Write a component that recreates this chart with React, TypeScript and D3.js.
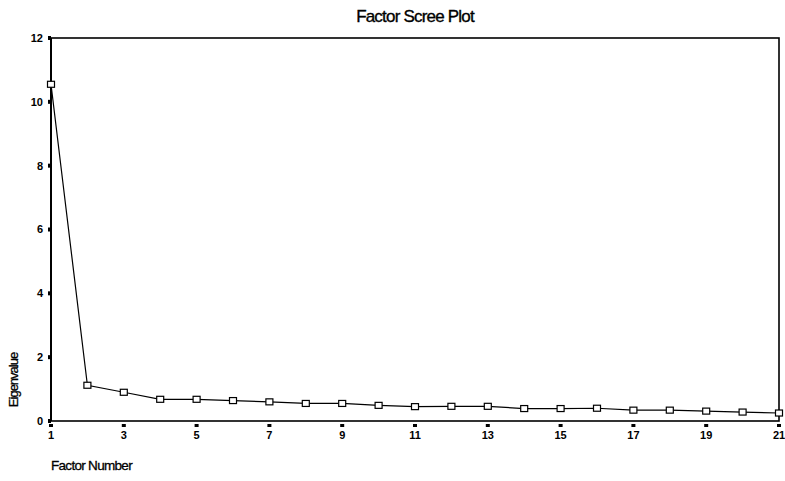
import * as d3 from 'd3';
import React from 'react';

// eigenvalue per factor
const factors = d3.range(1, 22);
const eigenvalues = [
  10.55, 1.12, 0.9, 0.68, 0.68, 0.64, 0.6, 0.55, 0.55, 0.49, 0.45,
  0.46, 0.46, 0.39, 0.39, 0.4, 0.34, 0.34, 0.31, 0.28, 0.25,
];
const xTickValues = [1, 3, 5, 7, 9, 11, 13, 15, 17, 19, 21];
const yTickValues = [0, 2, 4, 6, 8, 10, 12];

const width = 785;
const height = 481;
const margin = { top: 38, right: 4, bottom: 60, left: 51 };
const font = "'Liberation Sans Narrow', 'Liberation Sans', Arial, sans-serif";

const App: React.FC = () => {
  const innerWidth = width - margin.left - margin.right;
  const innerHeight = height - margin.top - margin.bottom;

  const x = d3.scaleLinear().domain([1, 21]).range([0, innerWidth - 2]);
  const y = d3.scaleLinear().domain([0, 12]).range([innerHeight, 0]);

  const points = factors.map((f, i) => ({ f, v: eigenvalues[i] }));
  const line = d3
    .line<{ f: number; v: number }>()
    .x((d) => x(d.f))
    .y((d) => y(d.v));

  return (
    <svg
      width={width}
      height={height}
      style={{ position: 'absolute', left: 0, top: 0, background: '#fff' }}
      fontFamily={font}
    >
      <text
        x={415}
        y={22}
        textAnchor="middle"
        fontSize={17}
        letterSpacing={-0.8}
        stroke="#000"
        strokeWidth={0.35}
      >
        Factor Scree Plot
      </text>
      <g transform={`translate(${margin.left},${margin.top})`}>
        <rect x={0} y={0} width={innerWidth - 2} height={innerHeight} fill="none" stroke="#000" strokeWidth={1.6} />
        <line x1={0} y1={0} x2={0} y2={innerHeight} stroke="#000" strokeWidth={2} />

        {yTickValues.map((t) => (
          <g key={`y-${t}`} transform={`translate(0,${y(t)})`}>
            <rect x={-3} y={-2} width={3} height={4} fill="#000" />
            <text x={-8} dy="0.35em" textAnchor="end" fontSize={11} fontWeight="bold">
              {t}
            </text>
          </g>
        ))}

        {xTickValues.map((t) => (
          <g key={`x-${t}`} transform={`translate(${x(t)},${innerHeight})`}>
            <rect x={-2} y={3} width={4} height={3} fill="#000" />
            <text y={18} textAnchor="middle" fontSize={11} fontWeight="bold">
              {t}
            </text>
          </g>
        ))}

        <path d={line(points) ?? ''} fill="none" stroke="#000" strokeWidth={1.2} />
        {points.map((d) => (
          <rect
            key={`m-${d.f}`}
            x={x(d.f) - 3.5}
            y={y(d.v) - 3}
            width={7}
            height={6}
            fill="#fff"
            stroke="#000"
            strokeWidth={1.2}
          />
        ))}
      </g>

      <text
        transform="translate(18,380) rotate(-90)"
        textAnchor="middle"
        fontSize={13}
        letterSpacing={-1}
        stroke="#000"
        strokeWidth={0.3}
      >
        Eigenvalue
      </text>
      <text x={51} y={470} fontSize={13.5} letterSpacing={-0.7} stroke="#000" strokeWidth={0.3}>
        Factor Number
      </text>
    </svg>
  );
};

export default App;
